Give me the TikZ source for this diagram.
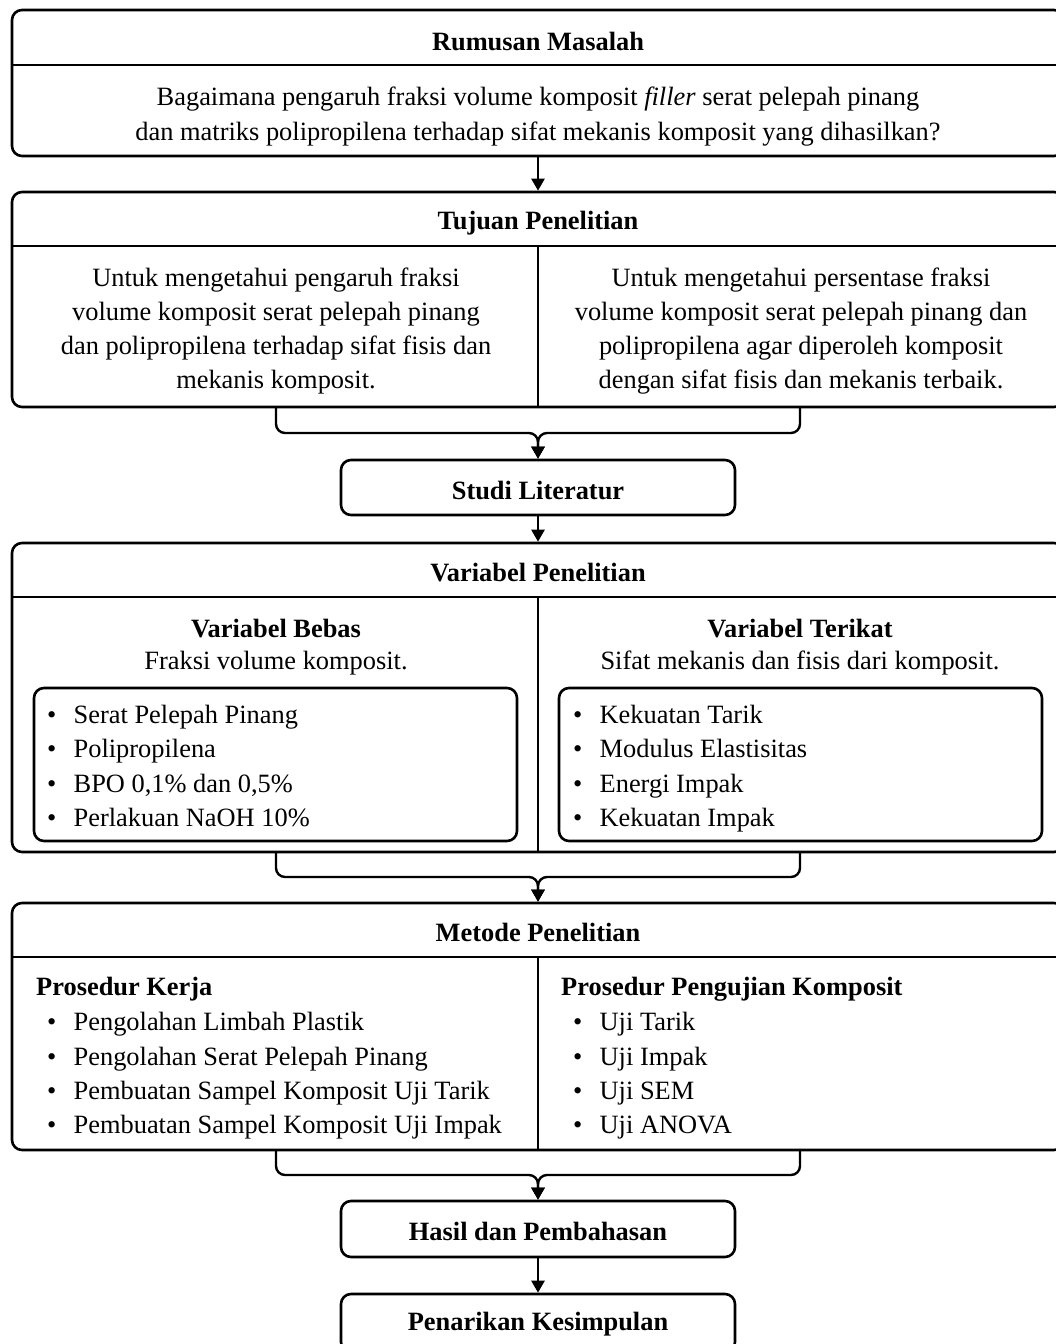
\documentclass[tikz,border=0pt]{standalone}
\usepackage{fontspec}
\setmainfont{Liberation Serif}
\usetikzlibrary{arrows.meta,calc}
\newcommand\myitem[1]{\strut\makebox[26.5pt][l]{•}#1}
\begin{document}
\begin{tikzpicture}[x=1pt,y=-1pt,
  bigbox/.style={draw,line width=2.6pt,rounded corners=10pt,inner sep=0pt},
  innerbox/.style={draw,line width=2.6pt,rounded corners=10pt,inner sep=0pt},
  divline/.style={line width=2pt},
  txt/.style={font=\fontsize{26.4}{34.3}\selectfont,inner sep=0pt,align=center},
  ttl/.style={font=\fontsize{26.4}{34.3}\selectfont\bfseries,inner sep=0pt},
  lst/.style={font=\fontsize{26.4}{34.4}\selectfont,inner sep=0pt,align=left,anchor=west},
  arr/.style={line width=2.4pt,-{Triangle[length=12pt,width=13pt]}},
  brk/.style={line width=2.4pt,rounded corners=9pt,-{Triangle[length=12pt,width=13pt]}}
]
\useasboundingbox (0,0) rectangle (1056,1344);

% ---------- Rumusan Masalah
\node[bigbox,minimum width=1052pt,minimum height=146pt] (rm) at (538,83) {};
\draw[divline] ($(rm.north west)+(0,56)$) -- ($(rm.north east)+(0,56)$);
\node[ttl] (rmt) at (538,41.5) {Rumusan Masalah};
\node[txt] (rmq) at (538,116.5) {Bagaimana pengaruh fraksi volume komposit \textit{filler} serat pelepah pinang\\dan matriks polipropilena terhadap sifat mekanis komposit yang dihasilkan?};

% ---------- Tujuan Penelitian
\node[bigbox,minimum width=1052pt,minimum height=215pt] (tj) at (538,299.5) {};
\draw[divline] ($(tj.north west)+(0,55)$) -- ($(tj.north east)+(0,55)$);
\draw[divline] ($(tj.north)+(0,55)$) -- (tj.south);
\node[ttl] (tjt) at (538,223.5) {Tujuan Penelitian};
\node[txt] (tjl) at (276,331) {Untuk mengetahui pengaruh fraksi\\volume komposit serat pelepah pinang\\dan polipropilena terhadap sifat fisis dan\\mekanis komposit.};
\node[txt] (tjr) at (801,331) {Untuk mengetahui persentase fraksi\\volume komposit serat pelepah pinang dan\\polipropilena agar diperoleh komposit\\dengan sifat fisis dan mekanis terbaik.};

% ---------- Studi Literatur
\node[bigbox,minimum width=394pt,minimum height=55pt] (sl) at (538,487.5) {};
\node[ttl] (slt) at (538,490.5) {Studi Literatur};

% ---------- Variabel Penelitian
\node[bigbox,minimum width=1052pt,minimum height=309pt] (vp) at (538,697.5) {};
\draw[divline] ($(vp.north west)+(0,55)$) -- ($(vp.north east)+(0,55)$);
\draw[divline] ($(vp.north)+(0,55)$) -- (vp.south);
\node[ttl] (vpt) at (538,572.5) {Variabel Penelitian};
\node[ttl] (vbt) at (276,628.5) {Variabel Bebas};
\node[txt] (vbs) at (276,663.5) {Fraksi volume komposit.};
\node[ttl] (vtt) at (800,628.5) {Variabel Terikat};
\node[txt] (vts) at (800,663.5) {Sifat mekanis dan fisis dari komposit.};
\node[innerbox,minimum width=483pt,minimum height=153pt] (vbb) at (275.5,764.5) {};
\node[innerbox,minimum width=483pt,minimum height=153pt] (vtb) at (800.5,764.5) {};
\node[lst] (vbl) at (47,768) {\myitem{Serat Pelepah Pinang}\\\myitem{Polipropilena}\\\myitem{BPO 0,1\% dan 0,5\%}\\\myitem{Perlakuan NaOH 10\%}};
\node[lst] (vtl) at (573,768) {\myitem{Kekuatan Tarik}\\\myitem{Modulus Elastisitas}\\\myitem{Energi Impak}\\\myitem{Kekuatan Impak}};

% ---------- Metode Penelitian
\node[bigbox,minimum width=1052pt,minimum height=247pt] (mp) at (538,1026.5) {};
\draw[divline] ($(mp.north west)+(0,55)$) -- ($(mp.north east)+(0,55)$);
\draw[divline] ($(mp.north)+(0,55)$) -- (mp.south);
\node[ttl] (mpt) at (538,932.5) {Metode Penelitian};
\node[ttl,anchor=west] (pkt) at (36,989.5) {Prosedur Kerja};
\node[ttl,anchor=west] (ppt) at (561,989.5) {Prosedur Pengujian Komposit};
\node[lst] (pkl) at (47,1075.5) {\myitem{Pengolahan Limbah Plastik}\\\myitem{Pengolahan Serat Pelepah Pinang}\\\myitem{Pembuatan Sampel Komposit Uji Tarik}\\\myitem{Pembuatan Sampel Komposit Uji Impak}};
\node[lst] (ppl) at (573,1075.5) {\myitem{Uji Tarik}\\\myitem{Uji Impak}\\\myitem{Uji SEM}\\\myitem{Uji ANOVA}};

% ---------- Hasil dan Pembahasan
\node[bigbox,minimum width=394pt,minimum height=56pt] (hp) at (538,1229) {};
\node[ttl] (hpt) at (538,1231.5) {Hasil dan Pembahasan};

% ---------- Penarikan Kesimpulan
\node[bigbox,minimum width=394pt,minimum height=58pt] (pk) at (538,1323) {};
\node[ttl] (pkt2) at (538,1324.5) {Penarikan Kesimpulan};

% ---------- connectors
\draw[arr] (rm.south) -- (tj.north);
\coordinate (b1l) at (276,407);
\coordinate (b1r) at (800,407);
\coordinate (b1m) at (538,433);
\draw[brk] (b1l) |- (b1m) -- (sl.north);
\draw[brk] (b1r) |- (b1m) -- (sl.north);
\draw[arr] (sl.south) -- (vp.north);
\coordinate (b2l) at (276,852);
\coordinate (b2r) at (800,852);
\coordinate (b2m) at (538,877);
\draw[brk] (b2l) |- (b2m) -- (mp.north);
\draw[brk] (b2r) |- (b2m) -- (mp.north);
\coordinate (b3l) at (276,1150);
\coordinate (b3r) at (800,1150);
\coordinate (b3m) at (538,1175);
\draw[brk] (b3l) |- (b3m) -- (hp.north);
\draw[brk] (b3r) |- (b3m) -- (hp.north);
\draw[arr] (hp.south) -- (pk.north);
\end{tikzpicture}
\end{document}
